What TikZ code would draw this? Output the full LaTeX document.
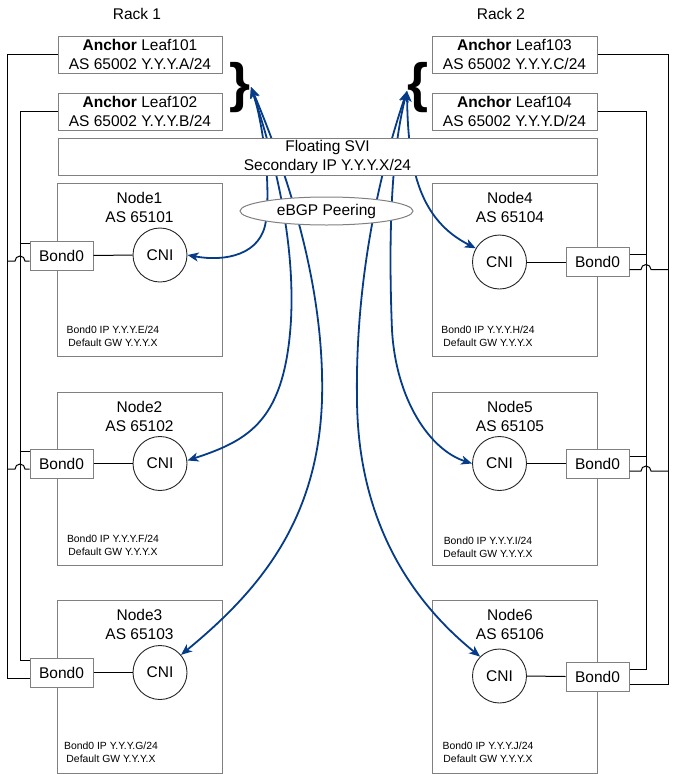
\documentclass[tikz,border=0pt]{standalone}
\usepackage{fontspec}
\setmainfont{Liberation Sans}
\usetikzlibrary{arrows.meta,shapes.geometric,decorations.pathreplacing}
\definecolor{boxgray}{RGB}{128,128,128}
\definecolor{peerblue}{RGB}{6,60,135}
\tikzset{
  box/.style={draw=boxgray, line width=1pt, rectangle, inner sep=0pt, font=\fontsize{15.5}{19}\selectfont, align=center},
  nodebox/.style={draw=boxgray, line width=1pt, rectangle, minimum width=165pt, minimum height=173pt, inner sep=0pt},
  cni/.style={draw=black!85, line width=0.9pt, circle, minimum size=54pt, inner sep=0pt, font=\fontsize{15.5}{19}\selectfont},
  bond/.style={draw=boxgray, line width=1pt, fill=white, rectangle, minimum width=63pt, minimum height=29pt, inner sep=0pt, font=\fontsize{15.5}{19}\selectfont},
  title/.style={font=\fontsize{15.5}{19}\selectfont, align=center, inner sep=0pt},
  small/.style={font=\fontsize{10.4}{13.2}\selectfont, align=center, inner sep=0pt},
  wire/.style={draw=black, line width=1pt},
  peer/.style={draw=peerblue, line width=1.8pt, {Stealth[length=11pt,width=9pt,inset=3pt]}-{Stealth[length=11pt,width=9pt,inset=3pt]}},
  bracetext/.style={font=\fontsize{54}{54}\selectfont\bfseries, inner sep=0pt},
}
\begin{document}
\begin{tikzpicture}[x=1pt,y=-1pt]
\useasboundingbox (0,0) rectangle (675,774);
% rack labels
\node[title] (rack1) at (137,14) {Rack 1};
\node[title] (rack2) at (501,14) {Rack 2};
% leaves
\node[box, minimum width=164pt, minimum height=37pt] (l101) at (140,54.5) {\textbf{Anchor} Leaf101\\AS 65002 Y.Y.Y.A/24};
\node[box, minimum width=164pt, minimum height=37pt] (l102) at (140,111.5) {\textbf{Anchor} Leaf102\\AS 65002 Y.Y.Y.B/24};
\node[box, minimum width=165pt, minimum height=37pt] (l103) at (514.5,54.5) {\textbf{Anchor} Leaf103\\AS 65002 Y.Y.Y.C/24};
\node[box, minimum width=165pt, minimum height=37pt] (l104) at (514.5,111.5) {\textbf{Anchor} Leaf104\\AS 65002 Y.Y.Y.D/24};
% braces
\node[bracetext] (lbrace) at (240,87.5) {\}};
\node[bracetext] (rbrace) at (418,87.5) {\{};
\coordinate (lb) at (251,87);
\coordinate (rb) at (407,91);
% node boxes left
\node[nodebox] (n1) at (139.5,269.5) {};
\node[nodebox] (n2) at (139.5,478.5) {};
\node[nodebox] (n3) at (139.5,687) {};
% node boxes right
\node[nodebox] (n4) at (514.5,269.5) {};
\node[nodebox] (n5) at (514.5,478.5) {};
\node[nodebox] (n6) at (514.5,687) {};
% titles
\node[title] (t1) at (139.5,207) {Node1\\AS 65101};
\node[title] (t2) at (139.5,416) {Node2\\AS 65102};
\node[title] (t3) at (139.5,624) {Node3\\AS 65103};
\node[title] (t4) at (510,207) {Node4\\AS 65104};
\node[title] (t5) at (510,416) {Node5\\AS 65105};
\node[title] (t6) at (510,624) {Node6\\AS 65106};
% CNI
\node[cni] (c1) at (160,255) {CNI};
\node[cni] (c2) at (160,463.5) {CNI};
\node[cni] (c3) at (160,672.5) {CNI};
\node[cni] (c4) at (499.5,262) {CNI};
\node[cni] (c5) at (499.5,463.5) {CNI};
\node[cni] (c6) at (499.5,676) {CNI};
% bonds
\node[bond] (b1) at (61.5,255.5) {Bond0};
\node[bond] (b2) at (61.5,463.5) {Bond0};
\node[bond] (b3) at (61.5,672.5) {Bond0};
\node[bond] (b4) at (597.5,262) {Bond0};
\node[bond] (b5) at (597.5,463.5) {Bond0};
\node[bond] (b6) at (597.5,676.5) {Bond0};
% small texts
\node[small] (s1) at (113,336.5) {Bond0 IP Y.Y.Y.E/24\\Default GW Y.Y.Y.X};
\node[small] (s2) at (113,545.5) {Bond0 IP Y.Y.Y.F/24\\Default GW Y.Y.Y.X};
\node[small] (s3) at (111,752) {Bond0 IP Y.Y.Y.G/24\\Default GW Y.Y.Y.X};
\node[small] (s4) at (488,336.5) {Bond0 IP Y.Y.Y.H/24\\Default GW Y.Y.Y.X};
\node[small] (s5) at (488,547.5) {Bond0 IP Y.Y.Y.I/24\\Default GW Y.Y.Y.X};
\node[small] (s6) at (488,752) {Bond0 IP Y.Y.Y.J/24\\Default GW Y.Y.Y.X};
% bond to CNI
\draw[wire] (b1.east) -- (c1.west);
\draw[wire] (b2.east) -- (c2.west);
\draw[wire] (b3.east) -- (c3.west);
\draw[wire] (c4.east) -- (b4.west);
\draw[wire] (c5.east) -- (b5.west);
\draw[wire] (c6.east) -- (b6.west);
% left buses
\draw[wire] (l101.west) -- (7,54.5) -- (7,678) -- ([yshift=-5.5pt]b3.west);
\draw[wire] (l102.west) -- (20,111.5) -- (20,660) -- ([yshift=12.5pt]b3.west);
\draw[wire] ([yshift=12.5pt]b1.west) -- (20,243);
\draw[wire] ([yshift=-5.5pt]b1.west) -- (25,261) arc[start angle=0,end angle=180,radius=5pt] -- (7,261);
\draw[wire] ([yshift=12.5pt]b2.west) -- (20,451);
\draw[wire] ([yshift=-5.5pt]b2.west) -- (25,469) arc[start angle=0,end angle=180,radius=5pt] -- (7,469);
% right buses
\draw[wire] (l103.east) -- (668,54.5) -- (668,684) -- ([yshift=-7.5pt]b6.east);
\draw[wire] (l104.east) -- (646,111.5) -- (646,669) -- ([yshift=7.5pt]b6.east);
\draw[wire] ([yshift=7.5pt]b4.east) -- (646,254.5);
\draw[wire] ([yshift=-7.5pt]b4.east) -- (641,269.5) arc[start angle=180,end angle=0,radius=5pt] -- (668,269.5);
\draw[wire] ([yshift=7.5pt]b5.east) -- (646,456);
\draw[wire] ([yshift=-7.5pt]b5.east) -- (641,471) arc[start angle=180,end angle=0,radius=5pt] -- (668,471);
% peering curves left
\draw[peer] (lb) .. controls (262,120) and (271,180) .. (266,220) .. controls (262,255) and (225,262) .. (c1.east);
\draw[peer] (lb) .. controls (275,160) and (295,240) .. (291,320) .. controls (285,420) and (250,440) .. ([yshift=3pt]c2.east);
\draw[peer] (lb) .. controls (290,180) and (325,290) .. (322,400) .. controls (318,520) and (260,590) .. (c3.40);
% peering curves right
\draw[peer] (rb) .. controls (408,170) and (420,220) .. (c4.150);
\draw[peer] (rb) .. controls (392,150) and (388,230) .. (392,330) .. controls (396,400) and (430,450) .. (c5.west);
\draw[peer] (rb) .. controls (380,170) and (355,280) .. (357,400) .. controls (358,520) and (410,600) .. (c6.135);
% floating SVI and eBGP on top
\node[box, fill=white, minimum width=539pt, minimum height=37pt] (svi) at (327.5,156.5) {Floating SVI\\Secondary IP Y.Y.Y.X/24};
\node[draw=boxgray, line width=1pt, fill=white, ellipse, minimum width=173pt, minimum height=28pt, inner sep=0pt, font=\fontsize{15.5}{19}\selectfont] (ebgp) at (326.5,211) {eBGP Peering};
\end{tikzpicture}
\end{document}
